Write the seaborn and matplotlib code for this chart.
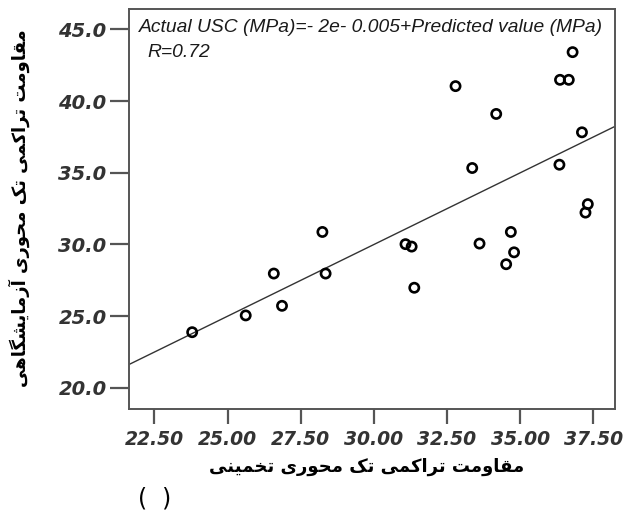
import matplotlib
matplotlib.use("Agg")
import matplotlib.pyplot as plt
import seaborn as sns
import pandas as pd
from matplotlib.ticker import FormatStrFormatter

# ---- data ----
predicted = [36.79, 32.79, 36.36, 36.66, 34.18, 37.11, 33.36, 36.34, 37.31, 37.23,
             28.24, 31.08, 31.29, 33.61, 34.68, 34.79, 34.52, 26.58, 28.35, 31.38,
             26.86, 25.62, 23.79]
actual = [43.41, 41.04, 41.48, 41.48, 39.10, 37.82, 35.33, 35.56, 32.81, 32.22,
          30.87, 30.02, 29.85, 30.06, 30.87, 29.45, 28.62, 27.97, 27.97, 26.98,
          25.72, 25.05, 23.88]
fit_slope = 1.0
fit_intercept = -0.005
x_ticks = [22.5, 25.0, 27.5, 30.0, 32.5, 35.0, 37.5]
y_ticks = [20.0, 25.0, 30.0, 35.0, 40.0, 45.0]
equation_text = "Actual USC (MPa)=- 2e- 0.005+Predicted value (MPa)"
r_text = "R=0.72"
x_label = "مقاومت تراکمی تک محوری تخمینی"
y_label = "مقاومت تراکمی تک محوری آزمایشگاهی"
caption = "(  )"

# ---- minimal Persian shaping (matplotlib has no complex text layout) ----
FORMS = {
    "ا": ("\uFE8D", "\uFE8E"), "آ": ("\uFE81", "\uFE82"),
    "ر": ("\uFEAD", "\uFEAE"), "ز": ("\uFEAF", "\uFEB0"),
    "و": ("\uFEED", "\uFEEE"),
    "ت": ("\uFE95", "\uFE96", "\uFE97", "\uFE98"),
    "ح": ("\uFEA1", "\uFEA2", "\uFEA3", "\uFEA4"),
    "خ": ("\uFEA5", "\uFEA6", "\uFEA7", "\uFEA8"),
    "ش": ("\uFEB5", "\uFEB6", "\uFEB7", "\uFEB8"),
    "ق": ("\uFED5", "\uFED6", "\uFED7", "\uFED8"),
    "م": ("\uFEE1", "\uFEE2", "\uFEE3", "\uFEE4"),
    "ن": ("\uFEE5", "\uFEE6", "\uFEE7", "\uFEE8"),
    "ه": ("\uFEE9", "\uFEEA", "\uFEEB", "\uFEEC"),
    "ی": ("\uFBFC", "\uFBFD", "\uFBFE", "\uFBFF"),
    "ک": ("\uFB8E", "\uFB8F", "\uFB90", "\uFB91"),
    "گ": ("\uFB92", "\uFB93", "\uFB94", "\uFB95"),
}


def shape(text):
    out = []
    for i, ch in enumerate(text):
        if ch not in FORMS:
            out.append(ch)
            continue
        prev = text[i - 1] if i > 0 else ""
        nxt = text[i + 1] if i + 1 < len(text) else ""
        jp = prev in FORMS and len(FORMS[prev]) == 4
        jn = len(FORMS[ch]) == 4 and nxt in FORMS
        f = FORMS[ch]
        if jp and jn:
            out.append(f[3])
        elif jp:
            out.append(f[1])
        elif jn:
            out.append(f[2])
        else:
            out.append(f[0])
    return "".join(out)[::-1]


df = pd.DataFrame({"predicted": predicted, "actual": actual})

sns.set_style("white")
plt.rcParams["font.family"] = ["DejaVu Sans"]

fig = plt.figure(figsize=(6.26, 5.15), dpi=100)
ax = fig.add_axes([0.206, 0.206, 0.776, 0.776])

sns.scatterplot(data=df, x="predicted", y="actual", ax=ax, marker="o", s=44,
                facecolor="none", edgecolor="black", linewidth=1.9, zorder=3)
ax.axline((0, fit_intercept), slope=fit_slope, color="#333333", lw=1.0, zorder=2)

ax.set_xlim(21.63, 38.23)
ax.set_ylim(18.53, 46.4)
ax.set_xticks(x_ticks)
ax.set_yticks(y_ticks)
ax.xaxis.set_major_formatter(FormatStrFormatter("%.2f"))
ax.yaxis.set_major_formatter(FormatStrFormatter("%.1f"))

for s in ax.spines.values():
    s.set_color("#555555")
    s.set_linewidth(1.4)

ax.tick_params(axis="x", bottom=True, direction="out", length=11, width=1.6,
               color="#555555", pad=4, labelsize=13.5, labelcolor="#333333")
ax.tick_params(axis="y", left=True, direction="out", length=14, width=1.6,
               color="#555555", pad=2, labelsize=14, labelcolor="#333333")
for lab in ax.get_xticklabels() + ax.get_yticklabels():
    lab.set_fontweight("bold")
    lab.set_fontstyle("oblique")

ax.set_xlabel("")
ax.set_ylabel("")

ax.text(0.02, 0.955, equation_text, transform=ax.transAxes, ha="left", va="center",
        fontsize=13.9, fontstyle="italic", family=["Liberation Sans", "DejaVu Sans"],
        color="#1a1a1a")
ax.text(0.038, 0.893, r_text, transform=ax.transAxes, ha="left", va="center",
        fontsize=13.9, fontstyle="italic", family=["Liberation Sans", "DejaVu Sans"],
        color="#1a1a1a")

fig.text(0.585, 0.094, shape(x_label), ha="center", va="center", fontsize=13,
         fontweight="bold", color="black")
fig.text(0.030, 0.595, shape(y_label), ha="center", va="center", fontsize=13,
         fontweight="bold", rotation=90, color="black")
fig.text(0.247, 0.032, caption, ha="center", va="center", fontsize=17,
         color="black")

fig.savefig("out.png", dpi=100)
